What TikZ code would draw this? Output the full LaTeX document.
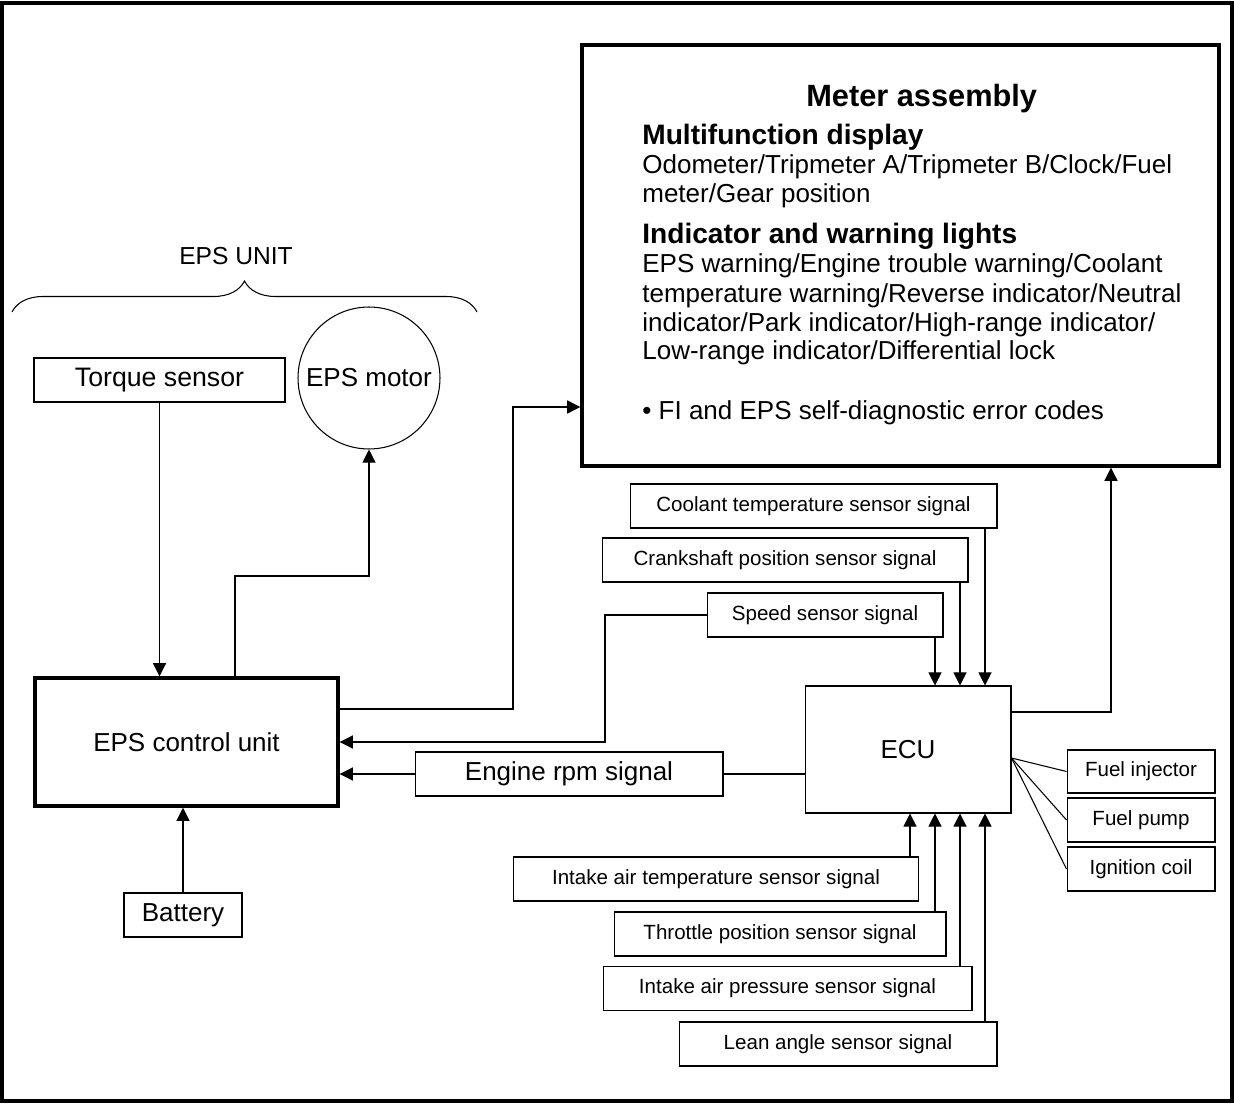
\documentclass[tikz,border=0pt]{standalone}
\usepackage{fontspec}
\setmainfont{Liberation Sans}
\usetikzlibrary{arrows.meta}
\usetikzlibrary{decorations.pathreplacing}
\tikzset{block/.style = {shape = rectangle, draw, line width = 0.6pt, inner sep = 0pt}}
\tikzset{bigblock/.style = {block, line width = 2pt}}
\tikzset{bigtext/.style = {font = \fontsize{14.8}{17}\selectfont}}
\tikzset{signal/.style = {block, minimum height = 0.88cm, font = \fontsize{11.7}{14}\selectfont}}
\tikzset{meterline/.style = {anchor = base west, inner sep = 0pt, font = \fontsize{14.8}{17}\selectfont}}
\tikzset{meterhead/.style = {anchor = base west, inner sep = 0pt, font = \bfseries\fontsize{16}{19}\selectfont}}
\tikzset{edge/.style = {-{Triangle[length = 7.5pt, width = 7.5pt]}, line width = 0.6pt}}
\tikzset{wire/.style = {line width = 0.6pt}}

\begin{document}
\begin{tikzpicture}[x = 0.02cm, y = -0.02cm]
	\useasboundingbox (0,0) rectangle (1234,1104);
	\draw[line width = 2.2pt] (2,3) rectangle (1232,1101);

	% steering side
	\node[font = \fontsize{14}{16}\selectfont] (unit) at (236,256) {EPS UNIT};
	\draw[wire, decorate, decoration = {brace, amplitude = 0.62cm}] (12,312) -- (477,312);
	\node[block, font = \fontsize{15.2}{17}\selectfont, minimum width = 5.02cm, minimum height = 0.88cm] (torque) at (159.5,380) {Torque sensor};
	\node[circle, draw, line width = 0.6pt, minimum size = 2.84cm, inner sep = 0pt, bigtext] (motor) at (369,378) {EPS motor};
	\node[bigblock, bigtext, minimum width = 6.06cm, minimum height = 2.56cm] (ctrl) at (186.5,742) {EPS control unit};
	\node[block, bigtext, minimum width = 2.36cm, minimum height = 0.88cm] (battery) at (183,915) {Battery};

	% meter assembly
	\node[bigblock, minimum width = 12.74cm, minimum height = 8.42cm] (meter) at (900.5,255.5) {};
	\node[anchor = base west, inner sep = 0pt, font = \bfseries\fontsize{17.5}{21}\selectfont] (title) at (806,107) {Meter assembly};
	\node[meterhead] (mfd) at (642,145) {Multifunction display};
	\node[meterline] (mfd1) at (642,174) {Odometer/Tripmeter A/Tripmeter B/Clock/Fuel};
	\node[meterline] (mfd2) at (642,203) {meter/Gear position};
	\node[meterhead] (lamp) at (642,244) {Indicator and warning lights};
	\node[meterline] (lamp1) at (642,273) {EPS warning/Engine trouble warning/Coolant};
	\node[meterline] (lamp2) at (642,303) {temperature warning/Reverse indicator/Neutral};
	\node[meterline] (lamp3) at (642,332) {indicator/Park indicator/High-range indicator/};
	\node[meterline] (lamp4) at (642,360) {Low-range indicator/Differential lock};
	\node[meterline] (diag) at (642,420) {\textbullet\ FI and EPS self-diagnostic error codes};

	% engine side
	\node[block, bigtext, minimum width = 4.12cm, minimum height = 2.54cm] (ecu) at (908,749.5) {ECU};
	\node[signal, minimum width = 7.34cm] (coolant) at (813.5,506) {Coolant temperature sensor signal};
	\node[signal, minimum width = 7.32cm] (crank) at (785,560) {Crankshaft position sensor signal};
	\node[signal, minimum width = 4.72cm] (speed) at (825,615) {Speed sensor signal};
	\node[block, bigtext, minimum width = 6.16cm, minimum height = 0.88cm] (rpm) at (569,774) {Engine rpm signal};
	\node[signal, minimum width = 2.96cm, minimum height = 0.86cm] (inj) at (1141,771.5) {Fuel injector};
	\node[signal, minimum width = 2.96cm] (pump) at (1141,820) {Fuel pump};
	\node[signal, minimum width = 2.96cm] (coil) at (1141,869) {Ignition coil};
	\node[signal, minimum width = 8.12cm] (iat) at (716,879) {Intake air temperature sensor signal};
	\node[signal, minimum width = 6.64cm] (tps) at (780,934) {Throttle position sensor signal};
	\node[signal, minimum width = 7.38cm] (map) at (787.5,988.5) {Intake air pressure sensor signal};
	\node[signal, minimum width = 6.36cm] (lean) at (838,1044) {Lean angle sensor signal};

	% bends and feed points
	\coordinate (m1) at (235,576);
	\coordinate (m2) at (513,709);
	\coordinate (m3) at (513,407);
	\coordinate (m4) at (605,742);
	\coordinate (m5) at (1111,712);
	\coordinate (fan) at (1011,758);
	\coordinate (p1) at (910,0);
	\coordinate (p2) at (935,0);
	\coordinate (p3) at (960,0);
	\coordinate (p4) at (985,0);

	\draw[edge] (torque) -- (torque |- ctrl.north);
	\draw[edge] (ctrl.north -| m1) -- (m1) -| (motor);
	\draw[edge] (battery) -- (battery |- ctrl.south);
	\draw[edge] (ctrl.east |- m2) -| (m3) -- (meter.west |- m3);
	\draw[edge] (speed.west) -| (m4) -- (ctrl.east |- m4);
	\draw[wire] (ecu.west |- rpm) -- (rpm.east);
	\draw[edge] (rpm.west) -- (ctrl.east |- rpm);
	\draw[edge] (ecu.east |- m5) -- (m5) -- (meter.south -| m5);

	\draw[edge] (speed.south -| p2) -- (ecu.north -| p2);
	\draw[edge] (crank.south -| p3) -- (ecu.north -| p3);
	\draw[edge] (coolant.south -| p4) -- (ecu.north -| p4);
	\draw[edge] (iat.north -| p1) -- (ecu.south -| p1);
	\draw[edge] (tps.north -| p2) -- (ecu.south -| p2);
	\draw[edge] (map.north -| p3) -- (ecu.south -| p3);
	\draw[edge] (lean.north -| p4) -- (ecu.south -| p4);

	\draw[wire] (ecu.east |- fan) -- (inj.west);
	\draw[wire] (ecu.east |- fan) -- (pump.west);
	\draw[wire] (ecu.east |- fan) -- (coil.west);
\end{tikzpicture}
\end{document}
